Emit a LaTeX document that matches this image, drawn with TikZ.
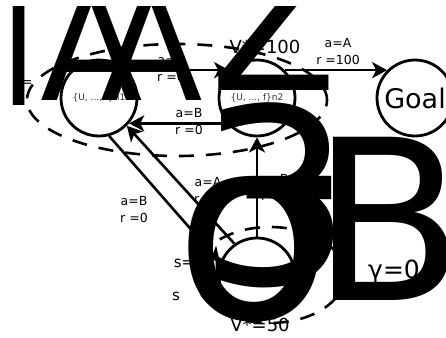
\documentclass[tikz,border=0pt]{standalone}
\usepackage{fontspec}
\setmainfont{DejaVu Sans}
\usetikzlibrary{arrows.meta}
\begin{document}
\begin{tikzpicture}[x=1pt,y=-1pt,
  state/.style={circle, draw, line width=2.8pt, minimum size=76pt, inner sep=0pt},
  small/.style={font=\fontsize{9}{9}\selectfont, text=black!80},
  lbl/.style={font=\fontsize{12.5}{17}\selectfont, align=center, inner sep=0pt},
  val/.style={font=\fontsize{18}{18}\selectfont, inner sep=0pt},
  edge/.style={line width=2.6pt, -{Stealth[length=15pt,width=16pt,inset=4pt]}},
  grp/.style={draw, line width=2.6pt, dash pattern=on 15pt off 12pt},
  big/.style={inner sep=0pt, anchor=base west}]
\useasboundingbox (0,0) rectangle (446,337);
\begin{scope}
\clip (0,7) rectangle (446,337);
% groups
\draw[grp] (177,100) ellipse [x radius=150pt, y radius=56pt];
\draw[grp] (270,275) ellipse [x radius=75pt, y radius=48pt];
% states
\node[state, small] (n1) at (99,98) {\{U, ..., f\}n1};
\node[state, small] (n2) at (257,98) {\{U, ..., f\}n2};
\node[state, font=\fontsize{27}{27}\selectfont] (g) at (415,98) {Goal};
\node[state, small] (s) at (257,276) {\{D, ..., f\}s};
% edges
\draw[edge] (n1.45) -- (n2.135);
\draw[edge] (n2.220) -- (n1.-40);
\draw[edge] (n2.45) -- (g.135);
\draw[edge] (s.90) -- (n2.270);
\draw[edge] (s.125) -- (n1.-45);
\draw[edge] (n1.-75) -- (s.160);
% labels
\node[lbl] (l1) at (171,69) {a=A\\r =0};
\node[lbl] (l2) at (189,121.5) {a=B\\r =0};
\node[lbl] (l3) at (338,51.5) {a=A\\r =100};
\node[lbl] (l4) at (208,190.5) {a=A\\r =0};
\node[lbl] (l5) at (134,210) {a=B\\r =0};
\node[lbl] (l6) at (275,188) {a=B\\r =0};
\node[val] (v2) at (265,47) {V*=100};
\node[val] (vs) at (260,325) {V*=50};
\node[font=\fontsize{15}{15}\selectfont, inner sep=0pt] (s1) at (184,263) {s=};
\node[font=\fontsize{15}{15}\selectfont, inner sep=0pt] (s2) at (176,296) {s};
\node[font=\fontsize{25}{25}\selectfont, inner sep=0pt, anchor=west] (gam) at (368,272) {γ=0.9};
\node[font=\fontsize{13}{13}\selectfont, inner sep=0pt] (e1) at (27,84) {=};
\node[font=\fontsize{13}{13}\selectfont, inner sep=0pt] (e2) at (188,84) {=};
% huge glyphs
\node[big, font=\fontsize{140}{140}\selectfont] (b1) at (-5,72) {|};
\node[big, font=\fontsize{150}{150}\selectfont] (b2) at (40,100) {A};
\node[big, font=\fontsize{150}{150}\selectfont] (b3) at (100,100) {A};
\node[big, font=\fontsize{185}{185}\selectfont] (b4) at (210,90) {Z};
\node[big, font=\fontsize{245}{245}\selectfont] (b5) at (197,284) {3};
\node[big, font=\fontsize{224}{224}\selectfont] (b6) at (311,300) {B};
\node[big, font=\fontsize{260}{260}\selectfont] (b7) at (174,318) {σ};
\end{scope}
\end{tikzpicture}
\end{document}
